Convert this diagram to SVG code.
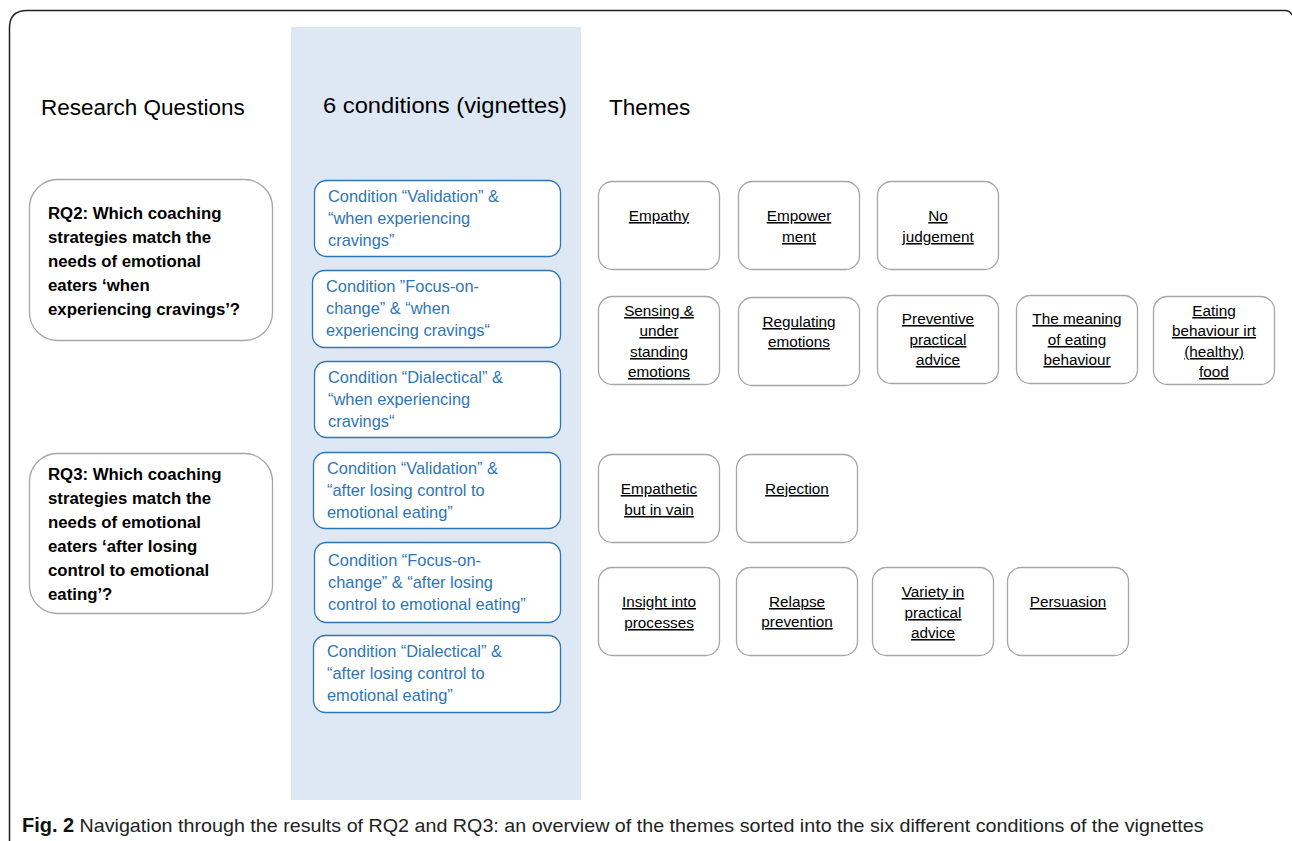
<svg xmlns="http://www.w3.org/2000/svg" width="1292" height="841" viewBox="0 0 1292 841">
<style>
text{font-family:"Liberation Sans",Arial,sans-serif;}
.head{font-size:22.5px;fill:#000;}
.rq rect{fill:#fff;stroke:#a6a6a6;stroke-width:1.3;}
.rq text{font-size:16.8px;font-weight:bold;fill:#000;}
.cond rect{fill:#fff;stroke:#2e75b6;stroke-width:1.3;}
.cond text{font-size:16.4px;fill:#2e75b6;}
.th rect{fill:#fff;stroke:#a6a6a6;stroke-width:1.3;}
.th text{font-size:15.3px;fill:#000;text-anchor:middle;text-decoration:underline;}
.cap{font-size:19px;fill:#222;}
</style>
<rect width="1292" height="841" fill="#fff"/>
<path d="M9.5,841 V28 Q9.5,10.5 27,10.5 H1285 Q1290,10.5 1292,15" fill="none" stroke="#222" stroke-width="1.5"/>
<rect x="291" y="27" width="290" height="773" fill="#dde8f4"/>
<text class="head" x="41" y="115">Research Questions</text>
<text class="head" x="323" y="113" textLength="244" lengthAdjust="spacingAndGlyphs">6 conditions (vignettes)</text>
<text class="head" x="609" y="115">Themes</text>

<g id="rq2" class="rq"><rect x="29.5" y="179.5" width="243" height="161" rx="28"/>
<text x="48" y="219">RQ2: Which coaching</text><text x="48" y="243">strategies match the</text><text x="48" y="267">needs of emotional</text><text x="48" y="291">eaters ‘when</text><text x="48" y="315">experiencing cravings’?</text></g>
<g id="rq3" class="rq"><rect x="29.5" y="453.5" width="243" height="160" rx="28"/>
<text x="48" y="480">RQ3: Which coaching</text><text x="48" y="504">strategies match the</text><text x="48" y="528">needs of emotional</text><text x="48" y="552">eaters ‘after losing</text><text x="48" y="576">control to emotional</text><text x="48" y="600">eating’?</text></g>

<g id="c1" class="cond"><rect x="314.5" y="180.5" width="246" height="76" rx="12"/>
<text x="328" y="202">Condition “Validation” &amp;</text><text x="328" y="224">“when experiencing</text><text x="328" y="246">cravings”</text></g>
<g id="c2" class="cond"><rect x="312.5" y="270.5" width="248" height="77" rx="12"/>
<text x="326" y="292">Condition ”Focus-on-</text><text x="326" y="314">change” &amp; “when</text><text x="326" y="336">experiencing cravings“</text></g>
<g id="c3" class="cond"><rect x="314.5" y="361.5" width="246" height="76" rx="12"/>
<text x="328" y="383">Condition “Dialectical” &amp;</text><text x="328" y="405">“when experiencing</text><text x="328" y="427">cravings“</text></g>
<g id="c4" class="cond"><rect x="313.5" y="452.5" width="247" height="76" rx="12"/>
<text x="327" y="474">Condition “Validation” &amp;</text><text x="327" y="496">“after losing control to</text><text x="327" y="518">emotional eating”</text></g>
<g id="c5" class="cond"><rect x="314.5" y="542.5" width="246" height="80" rx="12"/>
<text x="328" y="566">Condition “Focus-on-</text><text x="328" y="588">change” &amp; “after losing</text><text x="328" y="610">control to emotional eating”</text></g>
<g id="c6" class="cond"><rect x="313.5" y="635.5" width="247" height="77" rx="12"/>
<text x="327" y="657">Condition “Dialectical” &amp;</text><text x="327" y="679">“after losing control to</text><text x="327" y="701">emotional eating”</text></g>

<g id="t1" class="th"><rect x="598.5" y="181.5" width="121" height="88" rx="14"/><text x="659" y="221">Empathy</text></g>
<g id="t2" class="th"><rect x="738.5" y="181.5" width="121" height="88" rx="14"/><text x="799" y="221">Empower</text><text x="799" y="242">ment</text></g>
<g id="t3" class="th"><rect x="877.5" y="181.5" width="121" height="88" rx="14"/><text x="938" y="221">No</text><text x="938" y="242">judgement</text></g>

<g id="t4" class="th"><rect x="598.5" y="296.5" width="121" height="88" rx="14"/><text x="659" y="316">Sensing &amp;</text><text x="659" y="336">under</text><text x="659" y="357">standing</text><text x="659" y="377">emotions</text></g>
<g id="t5" class="th"><rect x="738.5" y="297.5" width="121" height="88" rx="14"/><text x="799" y="327">Regulating</text><text x="799" y="347">emotions</text></g>
<g id="t6" class="th"><rect x="877.5" y="295.5" width="121" height="88" rx="14"/><text x="938" y="324">Preventive</text><text x="938" y="345">practical</text><text x="938" y="365">advice</text></g>
<g id="t7" class="th"><rect x="1016.5" y="295.5" width="121" height="88" rx="14"/><text x="1077" y="324">The meaning</text><text x="1077" y="345">of eating</text><text x="1077" y="365">behaviour</text></g>
<g id="t8" class="th"><rect x="1153.5" y="296.5" width="121" height="88" rx="14"/><text x="1214" y="316">Eating</text><text x="1214" y="336">behaviour irt</text><text x="1214" y="357">(healthy)</text><text x="1214" y="377">food</text></g>

<g id="t9" class="th"><rect x="598.5" y="454.5" width="121" height="88" rx="14"/><text x="659" y="494">Empathetic</text><text x="659" y="515">but in vain</text></g>
<g id="t10" class="th"><rect x="736.5" y="454.5" width="121" height="88" rx="14"/><text x="797" y="494">Rejection</text></g>

<g id="t11" class="th"><rect x="598.5" y="567.5" width="121" height="88" rx="14"/><text x="659" y="607">Insight into</text><text x="659" y="628">processes</text></g>
<g id="t12" class="th"><rect x="736.5" y="567.5" width="121" height="88" rx="14"/><text x="797" y="607">Relapse</text><text x="797" y="627">prevention</text></g>
<g id="t13" class="th"><rect x="872.5" y="567.5" width="121" height="88" rx="14"/><text x="933" y="597">Variety in</text><text x="933" y="618">practical</text><text x="933" y="638">advice</text></g>
<g id="t14" class="th"><rect x="1007.5" y="567.5" width="121" height="88" rx="14"/><text x="1068" y="607">Persuasion</text></g>

<g id="connectors"></g>

<text class="cap" x="22" y="832"><tspan font-weight="bold" fill="#111" font-size="20">Fig. 2</tspan> <tspan textLength="1124" lengthAdjust="spacingAndGlyphs">Navigation through the results of RQ2 and RQ3: an overview of the themes sorted into the six different conditions of the vignettes</tspan></text>
</svg>
